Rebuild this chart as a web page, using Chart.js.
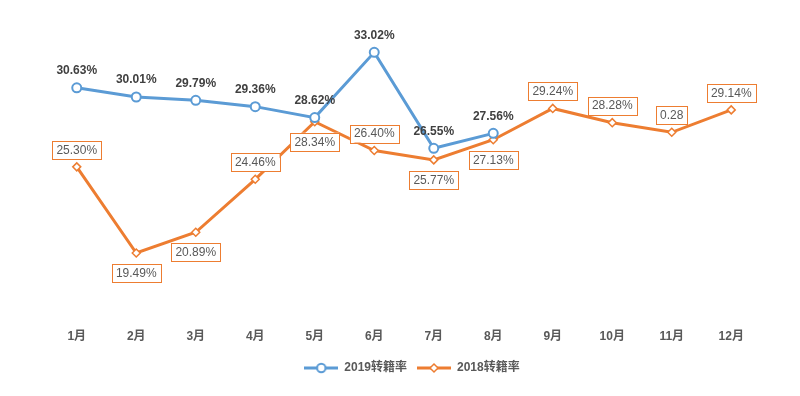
<!DOCTYPE html>
<html>
<head>
<meta charset="utf-8">
<script src="https://cdn.jsdelivr.net/npm/chart.js@4/dist/chart.umd.min.js"></script>
<style>
  html, body { margin: 0; padding: 0; background: #fff; }
  #wrap { width: 800px; height: 396px; }
</style>
</head>
<body>
<div id="wrap"><canvas id="chart"></canvas></div>
<script>
// data
const months = ["1月","2月","3月","4月","5月","6月","7月","8月","9月","10月","11月","12月"]
const rate2019 = [30.63, 30.01, 29.79, 29.36, 28.62, 33.02, 26.55, 27.56]
const rate2018 = [25.30, 19.49, 20.89, 24.46, 28.34, 26.40, 25.77, 27.13, 29.24, 28.28, 27.63, 29.14]
const text2019 = ["30.63%","30.01%","29.79%","29.36%","28.62%","33.02%","26.55%","27.56%"]
const text2018 = ["25.30%","19.49%","20.89%","24.46%","28.34%","26.40%","25.77%","27.13%","29.24%","28.28%","0.28","29.14%"]
// where each 2018 label box sits: 1 above, -1 below
const side2018 = [1,-1,-1,1,-1,1,-1,-1,1,1,1,1]

const BLUE = '#5B9BD5'
const ORANGE = '#ED7D31'
const GREY = '#595959'
const FONT = "'Liberation Sans', 'Noto Sans CJK SC', sans-serif"

// little line+marker pictures for the legend
function legendMark(color, diamond){
    let c = document.createElement('canvas')
    c.width = 34; c.height = 12
    let g = c.getContext('2d')
    g.strokeStyle = color
    g.lineWidth = 3
    g.beginPath(); g.moveTo(0,6); g.lineTo(34,6); g.stroke()
    g.fillStyle = '#fff'
    g.lineWidth = diamond ? 1.5 : 2
    g.beginPath()
    if(diamond){
        g.moveTo(17,2); g.lineTo(21,6); g.lineTo(17,10); g.lineTo(13,6); g.closePath()
    } else {
        g.arc(17,6,4.2,0,Math.PI*2)
    }
    g.fill(); g.stroke()
    return c
}
const marks = [legendMark(BLUE,false), legendMark(ORANGE,true)]

const labelPlugin = {
    id: 'pointLabels',
    afterLayout(chart){
        // nudge the legend a bit to the right, like the original
        if(chart.legend) chart.legend.left += 16
    },
    afterDatasetsDraw(chart){
        const ctx = chart.ctx
        ctx.save()
        ctx.textAlign = 'center'
        ctx.textBaseline = 'middle'
        // 2018: boxed labels
        let m = chart.getDatasetMeta(1)
        ctx.font = "12px " + FONT
        m.data.forEach((p,i) => {
            let t = text2018[i]
            let w = ctx.measureText(t).width + 8
            let h = 18
            let cy = p.y - side2018[i]*(side2018[i] > 0 ? 17 : 20)
            ctx.fillStyle = '#fff'
            ctx.fillRect(p.x - w/2, cy - h/2, w, h)
            ctx.strokeStyle = ORANGE
            ctx.lineWidth = 1
            ctx.strokeRect(Math.round(p.x - w/2)+0.5, Math.round(cy - h/2)+0.5, Math.round(w), h)
            ctx.fillStyle = GREY
            ctx.fillText(t, p.x, cy + 0.5)
        })
        // 2019: bold labels above
        m = chart.getDatasetMeta(0)
        ctx.font = "bold 12px " + FONT
        ctx.fillStyle = '#404040'
        m.data.forEach((p,i) => {
            ctx.fillText(text2019[i], p.x, p.y - 17)
        })
        ctx.restore()
    }
}

new Chart(document.getElementById('chart').getContext('2d'), {
    type: 'line',
    data: {
        labels: months,
        datasets: [
            {
                label: '2019转籍率',
                data: rate2019,
                borderColor: BLUE,
                backgroundColor: '#fff',
                borderWidth: 3,
                pointStyle: 'circle',
                pointRadius: 4.5,
                pointBorderWidth: 2,
                pointBackgroundColor: '#fff',
                pointBorderColor: BLUE,
                tension: 0
            },
            {
                label: '2018转籍率',
                data: rate2018,
                borderColor: ORANGE,
                backgroundColor: '#fff',
                borderWidth: 3,
                pointStyle: 'rectRot',
                pointRadius: 4,
                pointBorderWidth: 1.5,
                pointBackgroundColor: '#fff',
                pointBorderColor: ORANGE,
                tension: 0
            }
        ]
    },
    options: {
        responsive: true,
        maintainAspectRatio: false,
        animation: false,
        layout: { padding: { left: 47, right: 39, top: 23, bottom: 12 } },
        scales: {
            x: {
                offset: true,
                grid: { display: false, drawTicks: false },
                border: { display: false },
                ticks: { color: GREY, padding: 10, font: { family: FONT, size: 12, weight: 'bold' } },
                afterFit: s => { s.height -= 2 }
            },
            y: {
                display: false,
                min: 15,
                max: 35
            }
        },
        plugins: {
            tooltip: { enabled: false },
            legend: {
                position: 'bottom',
                labels: {
                    usePointStyle: true,
                    pointStyleWidth: 34,
                    boxHeight: 12,
                    padding: 10,
                    color: GREY,
                    font: { family: FONT, size: 12, weight: 'bold' },
                    generateLabels: chart => {
                        let items = Chart.defaults.plugins.legend.labels.generateLabels(chart)
                        items.forEach((it,i) => { it.pointStyle = marks[i]; it.rotation = 0 })
                        return items
                    }
                }
            }
        }
    },
    plugins: [labelPlugin]
});
</script>
</body>
</html>
